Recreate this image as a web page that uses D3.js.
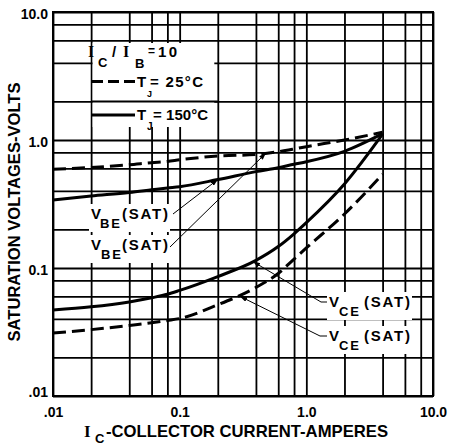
<!DOCTYPE html>
<html>
<head>
<meta charset="utf-8">
<script src="https://cdn.jsdelivr.net/npm/d3@7"></script>
<style>
  body { margin: 0; background: #fff; }
  svg text { font-family: "Liberation Sans", Arial, sans-serif; font-weight: bold; fill: #000; }
</style>
</head>
<body>
<div id="chart"></div>
<script>
var currentAmps = [0.01, 0.02, 0.04, 0.06, 0.08, 0.1, 0.2, 0.4, 0.6, 0.8, 1, 2, 4];
//saturation voltages (V), IC/IB = 10
var vbe25  = [0.59, 0.61, 0.64, 0.665, 0.68, 0.70, 0.75, 0.77, 0.81, 0.851, 0.887, 1.0, 1.15];
var vbe150 = [0.34, 0.365, 0.389, 0.408, 0.422, 0.432, 0.491, 0.566, 0.608, 0.647, 0.677, 0.816, 1.12];
var vce25  = [0.031, 0.033, 0.0356, 0.0373, 0.0389, 0.0403, 0.0516, 0.0705, 0.0906, 0.1175, 0.1435, 0.264, 0.54];
var vce150 = [0.047, 0.0497, 0.0543, 0.0585, 0.0623, 0.0668, 0.0857, 0.1146, 0.147, 0.185, 0.226, 0.453, 1.11];

//grid lines (2,4,6,8 in every decade) and labelled decades
var gridTicks = [0.01, 0.02, 0.04, 0.06, 0.08, 0.1, 0.2, 0.4, 0.6, 0.8, 1, 2, 4, 6, 8, 10];
var decadeTicks = [0.01, 0.1, 1, 10];
var xTickLabels = [".01", "0.1", "1.0", "10.0"];
var yTickLabels = [".01", "0.1", "1.0", "10.0"];

//callouts: where each arrow touches a curve
var calloutCurrent = [0.2, 0.48, 0.38, 0.3];
var calloutVolts = [0.491, 0.79, 0.112, 0.06];
var calloutSub = ["BE", "BE", "CE", "CE"];

var width = 449, height = 445;
var margin = {left: 53, top: 12, right: 16, bottom: 49};
var plotW = width - margin.left - margin.right;
var plotH = height - margin.top - margin.bottom;

var x = d3.scaleLog().domain([0.01, 10]).range([margin.left, margin.left + plotW]);
var y = d3.scaleLog().domain([0.01, 10]).range([margin.top + plotH, margin.top]);

var svg = d3.select("#chart").append("svg")
    .attr("width", width)
    .attr("height", height);

svg.append("defs").append("marker")
    .attr("id", "arrow")
    .attr("markerUnits", "userSpaceOnUse")
    .attr("markerWidth", 7)
    .attr("markerHeight", 5)
    .attr("refX", 7)
    .attr("refY", 2.5)
    .attr("orient", "auto")
    .append("path")
    .attr("d", "M0,0 L7,2.5 L0,5 z")
    .style("fill", "#000");

//grid
var gridX = svg.append("g")
    .attr("transform", "translate(0," + (margin.top + plotH) + ")")
    .call(d3.axisBottom(x).tickValues(gridTicks).tickSize(-plotH).tickFormat(""));
var gridY = svg.append("g")
    .attr("transform", "translate(" + margin.left + ",0)")
    .call(d3.axisLeft(y).tickValues(gridTicks).tickSize(-plotW).tickFormat(""));
[gridX, gridY].forEach(function(g){
    g.select(".domain").remove();
    g.selectAll(".tick line").style("stroke", "#000").style("stroke-width", 1.8);
});

svg.append("rect")
    .attr("x", margin.left)
    .attr("y", margin.top)
    .attr("width", plotW)
    .attr("height", plotH)
    .style("fill", "none")
    .style("stroke", "#000")
    .style("stroke-width", 2);

//tick labels
var xLab = svg.append("g")
    .attr("transform", "translate(0," + (margin.top + plotH) + ")")
    .call(d3.axisBottom(x).tickValues(decadeTicks).tickSize(0).tickPadding(11)
        .tickFormat(function(d, i){ return xTickLabels[i]; }));
var yLab = svg.append("g")
    .attr("transform", "translate(" + margin.left + ",0)")
    .call(d3.axisLeft(y).tickValues(decadeTicks).tickSize(0).tickPadding(5)
        .tickFormat(function(d, i){ return yTickLabels[i]; }));
[xLab, yLab].forEach(function(g){
    g.select(".domain").remove();
    g.selectAll("text").style("font-size", "14px");
});
yLab.selectAll("text").attr("dy", function(d){ return d === 0.01 ? "0.07em" : "0.46em"; });

//axis titles
svg.append("text")
    .attr("transform", "translate(20," + 212 + ") rotate(-90)")
    .style("text-anchor", "middle")
    .style("font-size", "17px")
    .attr("textLength", 259)
    .attr("lengthAdjust", "spacingAndGlyphs")
    .text("SATURATION VOLTAGES-VOLTS");

svg.append("text")
    .attr("x", 84).attr("y", 437)
    .style("font-size", "17px")
    .style("font-family", "'Liberation Serif', serif")
    .text("I");
svg.append("text")
    .attr("x", 95).attr("y", 443)
    .style("font-size", "13px")
    .text("C");
svg.append("text")
    .attr("x", 106).attr("y", 437)
    .style("font-size", "17px")
    .attr("textLength", 282)
    .attr("lengthAdjust", "spacingAndGlyphs")
    .text("-COLLECTOR CURRENT-AMPERES");

//legend: white patch over the grid, the 2 V line still runs through it
var legend = svg.append("g");
legend.append("rect")
    .attr("x", x(0.02) + 1.5)
    .attr("y", 43)
    .attr("width", x(0.2) - x(0.02) - 5)
    .attr("height", 84)
    .style("fill", "#fff");
legend.append("line")
    .attr("x1", x(0.02)).attr("x2", x(0.2))
    .attr("y1", Math.round(y(2)) + 0.5).attr("y2", Math.round(y(2)) + 0.5)
    .style("stroke", "#000")
    .style("stroke-width", 1.8);

function piece(g, t, px, py, size, len, serif){
    var el = g.append("text")
        .attr("x", px).attr("y", py)
        .style("font-size", size + "px")
        .text(t);
    if (len) el.attr("textLength", len);
    if (serif) el.style("font-family", "'Liberation Serif', serif");
    return el;
}

piece(legend, "I", 88, 57, 16, null, true);
piece(legend, "C", 98, 67, 13);
piece(legend, "/", 112, 57, 15);
piece(legend, "I", 123, 57, 16, null, true);
piece(legend, "B", 135, 68, 13);
piece(legend, "=", 148, 55, 12);
piece(legend, "10", 158, 57, 15, 19);

legend.append("line")
    .attr("x1", 92).attr("x2", 135)
    .attr("y1", 81.5).attr("y2", 81.5)
    .style("stroke", "#000")
    .style("stroke-width", 3)
    .style("stroke-dasharray", "11,5");
piece(legend, "T", 137, 87, 15);
piece(legend, "J", 147, 97, 9);
piece(legend, "= 25°C", 150, 87, 15, 53);

legend.append("line")
    .attr("x1", 92).attr("x2", 135)
    .attr("y1", 115).attr("y2", 115)
    .style("stroke", "#000")
    .style("stroke-width", 3);
piece(legend, "T", 137, 120, 15);
piece(legend, "J", 147, 130, 10);
piece(legend, "= 150°C", 153, 120, 15, 55);

//curves
var series = [
    {values: vbe25, dashed: true},
    {values: vbe150, dashed: false},
    {values: vce25, dashed: true},
    {values: vce150, dashed: false}
];

var line = d3.line()
    .x(function(d){ return x(d[0]); })
    .y(function(d){ return y(d[1]); })
    .curve(d3.curveMonotoneX);

svg.append("g").selectAll("path")
    .data(series)
    .enter().append("path")
    .attr("d", function(s){
        return line(currentAmps.map(function(c, i){ return [c, s.values[i]]; }));
    })
    .style("fill", "none")
    .style("stroke", "#000")
    .style("stroke-width", 3)
    .style("stroke-dasharray", function(s){ return s.dashed ? "13,6" : null; });

//callout labels with leaders
var calloutLayout = [
    {x: 91, base: 219, subX: 100, satX: 122, leader: [[173, 214]]},
    {x: 91, base: 250, subX: 101, satX: 122, leader: [[170, 247]]},
    {x: 329, base: 307, subX: 339, satX: 364, leader: [[327, 302], [321, 302]]},
    {x: 329, base: 341, subX: 339, satX: 364, leader: [[327, 336], [320, 336]]}
];

var leaderLine = d3.line();

calloutLayout.forEach(function(l, i){
    var g = svg.append("g");
    piece(g, "V", l.x, l.base, 15);
    piece(g, calloutSub[i], l.subX, l.base + 9, 13, 20);
    piece(g, "(SAT)", l.satX, l.base, 15, 46);
    var box = g.node().getBBox();
    g.insert("rect", ":first-child")
        .attr("x", box.x - 2)
        .attr("y", box.y - 1)
        .attr("width", box.width + 4)
        .attr("height", box.height + 2)
        .style("fill", "#fff");

    var pts = l.leader.concat([[x(calloutCurrent[i]), y(calloutVolts[i])]]);
    svg.append("path")
        .attr("d", leaderLine(pts))
        .style("fill", "none")
        .style("stroke", "#000")
        .style("stroke-width", 1)
        .attr("marker-end", "url(#arrow)");
});
</script>
</body>
</html>
